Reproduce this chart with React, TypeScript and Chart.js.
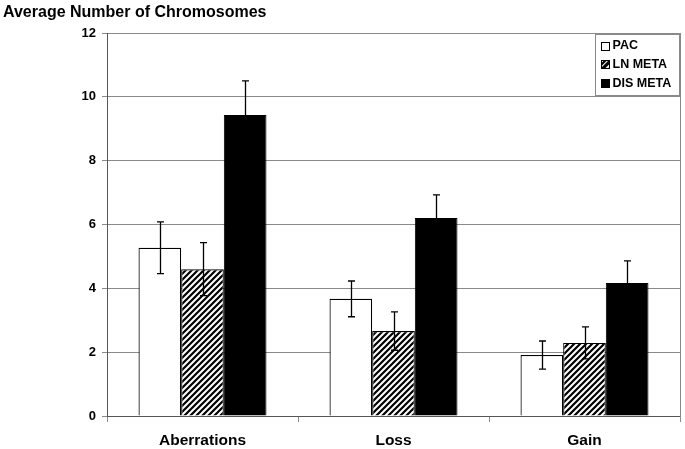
import React, { useEffect, useRef } from "react";
import { Chart, registerables } from "chart.js";

Chart.register(...registerables);

const categories = ["Aberrations", "Loss", "Gain"];
const seriesLabels = ["PAC", "LN META", "DIS META"];
const pacValues = [5.27, 3.67, 1.91];
const pacErrors = [0.81, 0.56, 0.44];
const lnValues = [4.6, 2.66, 2.29];
const lnErrors = [0.83, 0.6, 0.5];
const disValues = [9.43, 6.2, 4.17];
const disErrors = [1.07, 0.73, 0.69];
const yTickValues = [0, 2, 4, 6, 8, 10, 12];
const chartTitle = "Average Number of Chromosomes";

const FONT = "'Liberation Sans', Arial, Helvetica, sans-serif";

function makeHatch(): CanvasPattern | string {
  const s = 6;
  const c = document.createElement("canvas");
  c.width = s;
  c.height = s;
  const ctx = c.getContext("2d");
  if (!ctx) return "#888";
  ctx.fillStyle = "#fff";
  ctx.fillRect(0, 0, s, s);
  ctx.strokeStyle = "#000";
  ctx.lineWidth = 2.2;
  ctx.beginPath();
  ctx.moveTo(-1, s + 1);
  ctx.lineTo(s + 1, -1);
  ctx.moveTo(-1, 1);
  ctx.lineTo(1, -1);
  ctx.moveTo(s - 1, s + 1);
  ctx.lineTo(s + 1, s - 1);
  ctx.stroke();
  const p = ctx.createPattern(c, "repeat");
  return p || "#888";
}

export default function App() {
  const ref = useRef<HTMLCanvasElement | null>(null);

  useEffect(() => {
    const canvas = ref.current;
    if (!canvas) return;
    const hatch = makeHatch();
    const errors = [pacErrors, lnErrors, disErrors];
    const fills: any[] = ["#ffffff", hatch, "#000000"];

    const errorBarPlugin = {
      id: "errorBars",
      afterDatasetsDraw(chart: any) {
        const ctx = chart.ctx;
        const y = chart.scales.y;
        ctx.save();
        ctx.strokeStyle = "#000";
        ctx.lineWidth = 1.3;
        chart.data.datasets.forEach((ds: any, di: number) => {
          const meta = chart.getDatasetMeta(di);
          meta.data.forEach((el: any, i: number) => {
            const v = ds.data[i];
            const e = errors[di][i];
            const x = Math.round(el.x) + 0.5;
            const yt = y.getPixelForValue(v + e);
            const yb = y.getPixelForValue(v - e);
            ctx.beginPath();
            ctx.moveTo(x, yt);
            ctx.lineTo(x, yb);
            ctx.moveTo(x - 3.5, yt);
            ctx.lineTo(x + 3.5, yt);
            ctx.moveTo(x - 3.5, yb);
            ctx.lineTo(x + 3.5, yb);
            ctx.stroke();
          });
        });
        ctx.restore();
      },
    };

    const framePlugin = {
      id: "frameLegend",
      afterDraw(chart: any) {
        const ctx = chart.ctx;
        const a = chart.chartArea;
        ctx.save();
        // right frame line
        ctx.strokeStyle = "#8a8a8a";
        ctx.lineWidth = 1;
        ctx.beginPath();
        ctx.moveTo(Math.round(a.right) + 0.5, a.top);
        ctx.lineTo(Math.round(a.right) + 0.5, a.bottom + 6);
        ctx.stroke();

        // legend
        const w = 84;
        const h = 61;
        const lx = Math.round(a.right) - 1 - w + 0.5;
        const ly = Math.round(a.top) + 1.5;
        ctx.fillStyle = "#fff";
        ctx.fillRect(lx, ly, w, h);
        ctx.strokeStyle = "#8a8a8a";
        ctx.strokeRect(lx, ly, w, h);
        ctx.font = `bold 12.5px ${FONT}`;
        ctx.textBaseline = "middle";
        ctx.textAlign = "left";
        const rows = [ly + 11, ly + 29.5, ly + 48.5];
        chart.data.datasets.forEach((ds: any, di: number) => {
          const cy = rows[di];
          const bx = lx + 6;
          const by = Math.round(cy - 4) + 0.5;
          ctx.fillStyle = fills[di];
          ctx.fillRect(bx, by, 8, 8);
          ctx.strokeStyle = "#000";
          ctx.lineWidth = 1;
          ctx.strokeRect(bx, by, 8, 8);
          if (di === 1) {
            ctx.beginPath();
            ctx.moveTo(bx, by + 8);
            ctx.lineTo(bx + 8, by);
            ctx.lineWidth = 1.5;
            ctx.stroke();
          }
          ctx.fillStyle = "#000";
          ctx.fillText(ds.label, bx + 11, cy + 0.5);
        });
        ctx.restore();
      },
    };

    const chart = new Chart(canvas, {
      type: "bar",
      data: {
        labels: categories,
        datasets: [
          {
            label: seriesLabels[0],
            data: pacValues,
            backgroundColor: fills[0],
            borderColor: "#000",
            borderWidth: 1.2,
          },
          {
            label: seriesLabels[1],
            data: lnValues,
            backgroundColor: fills[1],
            borderColor: "#000",
            borderWidth: 1.2,
          },
          {
            label: seriesLabels[2],
            data: disValues,
            backgroundColor: fills[2],
            borderColor: "#000",
            borderWidth: 1,
          },
        ],
      },
      options: {
        responsive: false,
        animation: false,
        layout: { padding: { left: 3, right: 5, top: 0, bottom: 0 } },
        datasets: {
          bar: { categoryPercentage: 0.67, barPercentage: 1 },
        },
        plugins: {
          legend: { display: false },
          tooltip: { enabled: false },
          title: {
            display: true,
            text: chartTitle,
            align: "start",
            color: "#000",
            font: { family: FONT, size: 16, weight: "bold", lineHeight: 1.2 },
            padding: { top: 3, bottom: 10.8 },
          },
        },
        scales: {
          x: {
            grid: {
              offset: true,
              drawOnChartArea: false,
              drawTicks: true,
              tickLength: 6,
              color: "#8a8a8a",
            },
            border: { color: "#555", width: 1 },
            ticks: {
              color: "#000",
              padding: 9,
              font: { family: FONT, size: 15.5, weight: "bold" },
            },
            afterFit(scale: any) {
              scale.height = 33;
            },
          },
          y: {
            min: 0,
            max: 12,
            afterBuildTicks(scale: any) {
              scale.ticks = yTickValues.map((v) => ({ value: v }));
            },
            grid: {
              color: "#8a8a8a",
              lineWidth: 1,
              drawTicks: true,
              tickLength: 5,
            },
            border: { color: "#555", width: 1 },
            ticks: {
              color: "#000",
              padding: 6,
              font: { family: FONT, size: 13, weight: "bold" },
            },
            afterFit(scale: any) {
              scale.width = 104;
            },
          },
        },
      },
      plugins: [errorBarPlugin, framePlugin],
    } as any);

    return () => chart.destroy();
  }, []);

  return (
    <div style={{ position: "absolute", left: 0, top: 0, width: 685, height: 449, background: "#fff" }}>
      <canvas ref={ref} width={685} height={449} style={{ display: "block" }} />
    </div>
  );
}
